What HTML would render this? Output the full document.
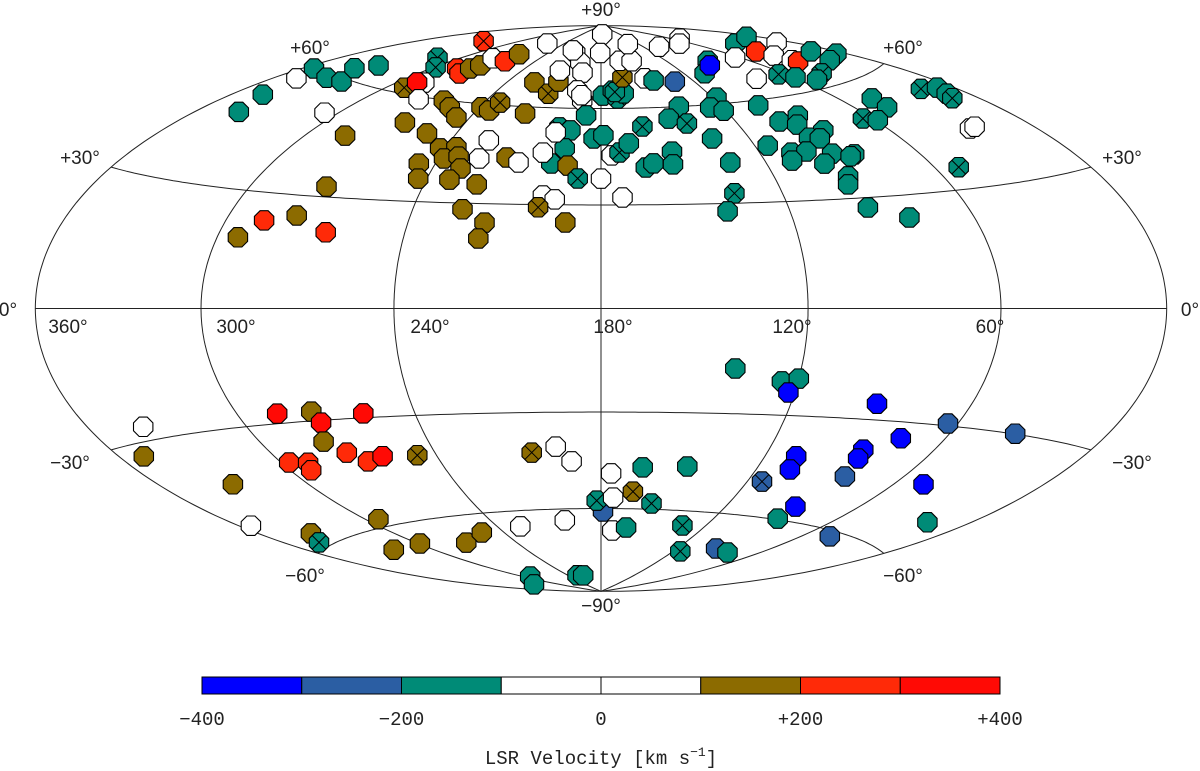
<!DOCTYPE html>
<html><head><meta charset="utf-8">
<style>
html,body{margin:0;padding:0;background:#fff;}
svg{display:block;font-family:"Liberation Sans",sans-serif;}
.lbl{font-size:19px;fill:#222;}
.cb{font-family:"Liberation Mono",monospace;font-size:19px;fill:#222;}
</style></head>
<body>
<svg id="chart" width="1200" height="771" viewBox="0 0 1200 771" xmlns="http://www.w3.org/2000/svg">
<g id="grid" fill="none" stroke="#222" stroke-width="1"></g>
<g id="labels">
<text class="lbl" x="601" y="16" text-anchor="middle">+90°</text>
<text class="lbl" x="601" y="612" text-anchor="middle">−90°</text>
<text class="lbl" x="310" y="54" text-anchor="middle">+60°</text>
<text class="lbl" x="903" y="54" text-anchor="middle">+60°</text>
<text class="lbl" x="80" y="164" text-anchor="middle">+30°</text>
<text class="lbl" x="1122" y="164" text-anchor="middle">+30°</text>
<text class="lbl" x="70" y="469" text-anchor="middle">−30°</text>
<text class="lbl" x="1132" y="469" text-anchor="middle">−30°</text>
<text class="lbl" x="305" y="582" text-anchor="middle">−60°</text>
<text class="lbl" x="903" y="582" text-anchor="middle">−60°</text>
<text class="lbl" x="8" y="316" text-anchor="middle">0°</text>
<text class="lbl" x="1190" y="316" text-anchor="middle">0°</text>
<text class="lbl" x="68" y="333" text-anchor="middle">360°</text>
<text class="lbl" x="236" y="333" text-anchor="middle">300°</text>
<text class="lbl" x="430" y="333" text-anchor="middle">240°</text>
<text class="lbl" x="613" y="333" text-anchor="middle">180°</text>
<text class="lbl" x="792" y="333" text-anchor="middle">120°</text>
<text class="lbl" x="990" y="333" text-anchor="middle">60°</text>
</g>
<g id="points"></g>
<g id="colorbar"></g>
<text class="cb" x="601" y="764" text-anchor="middle">LSR Velocity [km s<tspan dy="-8" font-size="13">−1</tspan><tspan dy="8">]</tspan></text>
</svg>
<script>
const lon = [342,347,350,355,338,327,338,331,306,284,273,287,277,265,293,314,299,327,285,277,277,275,278,264,265,263,291,286,290,274,261,254,246,239,234,232,216,266,252,242,236,238,233,230,246,243,232,222,225,225,215,210,224,216,217,199,195,200,191,223,210,208,211,199,194,212,194,190,191,176,181,216,179,173,171,167,172,187,198,193,183,179,194,198,192,188,180,173,199,202,176,173,169,162,164,161,153,154,150,145,132,165,162,151,136,101,52,71,87.5,106,93,30,5,63,38,7,37,36,35,11,4,18,81,64,59,41,51,15,7,9,11,27,24,51,45,46,64,59,94,82,141,149,142,118,126,121,102,135,101,90,95,87,96,92,115,133,108,102,110,93,85,87,99,94,96,136,140,
338,350,286,274,273,257,277,272,297,290,292,267,260,247,330,355,294,338,345,321,299,272,253,205,196,191,227,200,293,328,224,214,179,182,140,125,120,122,92,63.5,36,76,108.5,107,86,85,83,114,48,88,88,18,46,164,147,176,166,174.5,156,173,165,133,114.5,93,80];
const lat = [47,51.5,56.4,59.1,58.8,59.2,62.4,64.7,51.6,46.8,32.8,22.8,24.6,20.5,18.1,70.5,68.3,77.1,69.3,68.1,70,71.4,74,73.8,76.6,81.3,61.6,63.9,63.6,59.2,59.8,58,55.2,58.9,58.1,60.8,57.8,52.3,49.8,45.7,46.3,42.8,43.6,40.1,40.9,36.6,36.7,35.6,48.9,43.3,43.9,42.5,28.2,24.5,19.9,32.7,31.6,29.2,24.8,68.1,64.6,68.8,79.3,75.7,72.2,72.6,66,62.6,64.4,86.5,79.4,80,64.3,66,63.3,65,65.5,57.7,53.7,52.8,50.3,51.3,47.1,42.4,41.8,37.9,37.9,32.2,52.1,45.7,45,45.9,48.7,54,41.2,42.4,45.9,42,69.9,69,68.2,70.5,76.4,76.1,82.3,80.1,80.8,79.7,73.4,69.9,72,75.3,75,72.6,72.3,71.7,70.2,68,67.3,67.7,65.2,65,66,65.9,64.2,63.4,62.4,53.7,52.7,51.1,50,43.5,43.6,35.5,55.1,52.3,50.9,49.8,27.3,24,60,56.3,54.5,62,59.1,57.8,58.4,49.5,53.1,54.2,51.7,49.3,47.7,47.2,46.4,42,43.9,43.9,41.6,42.7,41.9,41.5,40.1,36.1,33.9,32.9,27.7,
-26.9,-32.8,-27.4,-27.5,-30.6,-28.8,-35.7,-39.2,-40.1,-40.8,-42.8,-42.1,-41,-41.4,-42.7,-51.1,-57.8,-56.7,-58.7,-65.5,-65.9,-68.2,-65.9,-42,-40.3,-44.9,-65.1,-63.8,-81,-82.8,-83.3,-83.5,-61,-57.4,-17,-20.4,-19.5,-23.5,-25.6,-29.4,-29.9,-34.3,-41.5,-45.4,-38.2,-40.7,-45.9,-49.5,-44.9,-55.7,-59.7,-52.3,-61.4,-46.7,-46.1,-48.7,-54.4,-56.4,-58.1,-67.4,-66.3,-64.8,-73.2,-70.8,-71.3];
const vel = [
-150,-150,0,-150,-150,-150,-150,-150,0,150,
150,250,150,250,150,-150,-150,250,250,250,
150,150,0,250,150,0,150,0,350,0,
150,150,150,150,150,150,150,150,150,150,
150,150,150,150,150,150,150,150,0,0,
150,0,150,150,150,0,0,150,150,150,
150,150,0,0,0,0,0,0,0,0,
0,0,-150,-150,-150,-150,-150,-150,-150,-150,
-150,-150,-150,-150,150,-150,0,0,0,0,
0,-150,-150,-150,-150,-150,-150,-150,0,-150,
-250,150,0,0,0,0,0,0,-150,-150,
-350,-150,-150,0,250,0,0,0,250,-150,
-150,-150,0,-150,-150,-150,-150,-150,-150,-150,
-150,0,0,-150,-150,-150,-150,-150,-150,-150,
-150,-150,-150,-150,-150,-150,-150,-150,-150,-150,
-150,-150,-150,-150,-150,-150,-150,-150,-150,-150,
-150,-150,-150,-150,-150,-150,-150,
0,150,350,150,350,350,150,250,250,250,
250,250,350,150,150,0,150,150,-150,150,
150,150,150,150,0,0,0,0,-150,-150,
-150,-150,-250,-150,-150,-150,-150,-350,-350,-250,
-250,-350,-350,-350,-350,-350,-250,-250,-350,-350,
-150,-150,-250,-150,-150,0,150,0,-150,0,
-150,-150,-150,-250,-150];
const cross = [
0,0,0,0,0,0,0,0,0,0,
0,0,0,0,0,1,1,1,0,0,
0,0,0,0,0,0,1,0,0,0,
0,0,0,0,0,1,0,0,0,0,
0,0,0,0,0,0,0,0,0,0,
0,0,0,0,0,0,0,1,0,0,
1,0,0,0,0,0,0,0,0,0,
0,0,0,0,1,0,1,0,1,0,
0,0,0,0,0,1,0,0,0,0,
0,1,0,1,0,0,0,0,0,0,
0,1,0,0,0,0,0,0,0,0,
0,0,0,0,0,0,0,0,0,0,
0,0,0,1,0,1,0,1,0,0,
1,0,0,1,0,0,1,0,0,0,
0,0,1,0,0,0,0,0,0,0,
0,0,0,0,0,0,0,0,0,0,
0,0,0,0,0,1,0,
0,0,0,0,0,0,0,0,0,0,
0,0,0,1,0,0,0,0,1,0,
0,0,0,1,0,0,0,0,0,0,
0,0,0,1,0,0,0,0,0,0,
0,0,0,0,0,0,0,1,0,0,
0,0,0,0,0,0,1,0,1,0,
0,1,1,0,0];
const binEdges = [-400,-300,-200,-100,0,100,200,300,400];
const binColors = ["#0000ff","#2b5ea3","#008b77","#ffffff","#ffffff","#8c6b00","#ff2a08","#ff0a05"];
const cbTicks = [-400,-200,0,200,400];
const cbTickLabels = ["−400","−200","0","+200","+400"];
const parallels = [-60,-30,30,60];
const meridians = [60,120,180,240,300];

const NS="http://www.w3.org/2000/svg";
const CX=601, CY=308.5, R=200;
function proj(l,b){
  const lam=(l-180)*Math.PI/180, ph=b*Math.PI/180;
  const d=Math.sqrt(1+Math.cos(ph)*Math.cos(lam/2));
  return [CX - R*2*Math.SQRT2*Math.cos(ph)*Math.sin(lam/2)/d, CY - R*Math.SQRT2*Math.sin(ph)/d];
}
function colorFor(v){
  for(let i=0;i<binColors.length;i++){ if(v<binEdges[i+1]||i===binColors.length-1) return binColors[i]; }
}
const grid=document.getElementById('grid');
function pathFrom(pts){return 'M'+pts.map(p=>p[0].toFixed(1)+','+p[1].toFixed(1)).join('L');}
{const pts=[];for(let b=-90;b<=90;b+=1)pts.push(proj(0.0001,b));for(let b=90;b>=-90;b-=1)pts.push(proj(359.9999,b));
 const p=document.createElementNS(NS,'path');p.setAttribute('d',pathFrom(pts)+'Z');
 
 
 grid.appendChild(p);}
{const p=document.createElementNS(NS,'path');p.setAttribute('d',pathFrom([proj(359.9999,0),proj(0.0001,0)]));
 
 
 grid.appendChild(p);}
parallels.forEach(b=>{const pts=[];for(let l=0.0001;l<=360;l+=2)pts.push(proj(l,b));pts.push(proj(359.9999,b));
 const p=document.createElementNS(NS,'path');p.setAttribute('d',pathFrom(pts));
 
 
 grid.appendChild(p);});
meridians.forEach(l=>{const pts=[];for(let b=-90;b<=90;b+=1)pts.push(proj(l,b));
 const p=document.createElementNS(NS,'path');p.setAttribute('d',pathFrom(pts));
 
 
 grid.appendChild(p);});
const pg=document.getElementById('points');
const rr=10.5;
for(let i=0;i<lon.length;i++){
  const [x,y]=proj(lon[i],lat[i]);
  const g=document.createElementNS(NS,'g');
  
  
  const pts=[];for(let k=0;k<8;k++){const a=(22.5+45*k)*Math.PI/180;pts.push((x+rr*Math.cos(a)).toFixed(1)+','+(y+rr*Math.sin(a)).toFixed(1));}
  const poly=document.createElementNS(NS,'polygon');
  poly.setAttribute('points',pts.join(' '));
  poly.setAttribute('fill',colorFor(vel[i]));
  poly.setAttribute('stroke','#000');poly.setAttribute('stroke-width','1.1');
  
  
  g.appendChild(poly);
  if(cross[i]){
    const c=document.createElementNS(NS,'path');const s=7;
    c.setAttribute('d',`M${x-s},${y-s}L${x+s},${y+s}M${x-s},${y+s}L${x+s},${y-s}`);
    c.setAttribute('stroke','#000');c.setAttribute('stroke-width','1');
    
    
    g.appendChild(c);
  }
  pg.appendChild(g);
}
const cb=document.getElementById('colorbar');
const X0=202,X1=1000,Y0=677,H=17;
const cx=v=>X0+(v-binEdges[0])/(binEdges[binEdges.length-1]-binEdges[0])*(X1-X0);
for(let i=0;i<binColors.length;i++){
  const r=document.createElementNS(NS,'rect');
  r.setAttribute('x',cx(binEdges[i]));r.setAttribute('y',Y0);
  r.setAttribute('width',cx(binEdges[i+1])-cx(binEdges[i]));r.setAttribute('height',H);
  r.setAttribute('fill',binColors[i]);r.setAttribute('stroke','#000');r.setAttribute('stroke-width','1');
  
  
  cb.appendChild(r);
}
cbTicks.forEach((v,i)=>{
  const t=document.createElementNS(NS,'text');
  t.setAttribute('x',cx(v));t.setAttribute('y',725);t.setAttribute('text-anchor','middle');
  t.setAttribute('class','cb');t.textContent=cbTickLabels[i];
  
  
  cb.appendChild(t);
});
</script>
</body></html>
